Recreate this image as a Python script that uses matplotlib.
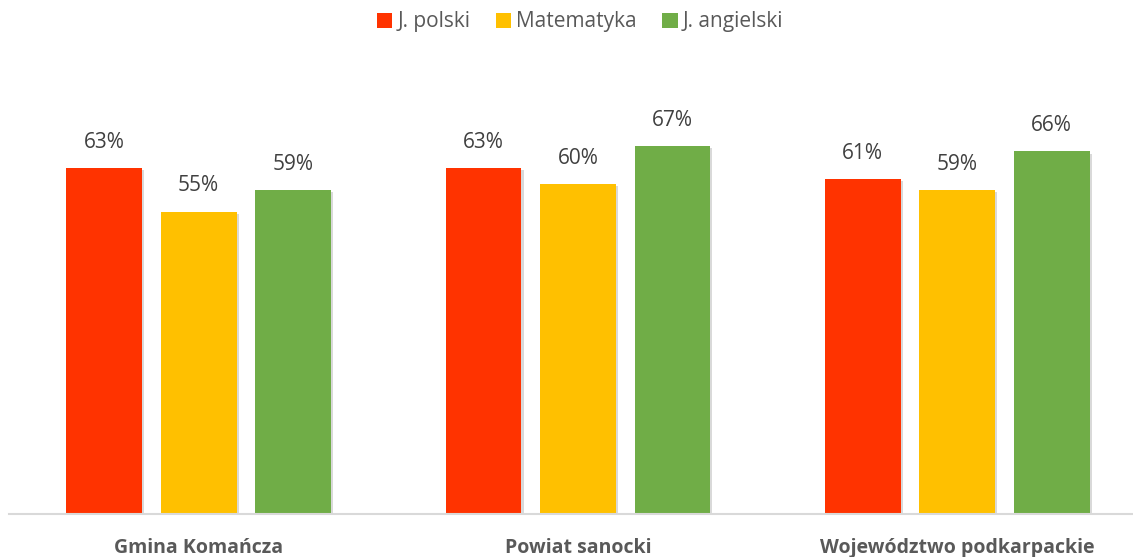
import numpy as np
import matplotlib.pyplot as plt
import matplotlib.patheffects as pe
from matplotlib.patches import Patch

plt.rcParams['font.family'] = ['Open Sans', 'DejaVu Sans']

kategorie = ['Gmina Komańcza', 'Powiat sanocki', 'Województwo podkarpackie']
przedmioty = ['J. polski', 'Matematyka', 'J. angielski']
wyniki = {
    'J. polski': [0.63, 0.63, 0.61],
    'Matematyka': [0.55, 0.60, 0.59],
    'J. angielski': [0.59, 0.67, 0.66],
}
kolory = ['#FF3300', '#FFC000', '#70AD47']

W, H = 1133, 557
fig = plt.figure(figsize=(W / 100, H / 100), dpi=100)
ax = fig.add_axes([9 / W, 43 / H, (1133 - 9) / W, 412 / H])

x = np.arange(len(kategorie))
slot = 0.249
szer = 0.2
cien = [pe.SimplePatchShadow(offset=(1.5, -1.5), shadow_rgbFace='#000000', alpha=0.15), pe.Normal()]

for i, (p, kol) in enumerate(zip(przedmioty, kolory)):
    pos = x + (i - 1) * slot
    bary = ax.bar(pos, wyniki[p], width=szer, color=kol, zorder=3)
    for b in bary:
        b.set_path_effects(cien)
    for xp, v in zip(pos, wyniki[p]):
        ax.text(xp, v + 0.028, f'{v * 100:.0f}%', ha='center', va='bottom',
                fontsize=15, color='#404040')

ax.set_xlim(-0.5, 2.5 - 14 / 379.5)
ax.set_ylim(0, 0.75)
ax.set_yticks([])
ax.set_xticks(x)
ax.set_xticklabels(kategorie, fontsize=14, fontweight='bold', color='#595959')
ax.tick_params(axis='x', length=0, pad=17)
for s in ['top', 'right', 'left']:
    ax.spines[s].set_visible(False)
ax.spines['bottom'].set_color('#D9D9D9')
ax.spines['bottom'].set_linewidth(1.5)
ax.spines['bottom'].set_zorder(4)

uchwyty = [Patch(facecolor=k, edgecolor='none') for k in kolory]
fig.legend(uchwyty, przedmioty, loc='center', bbox_to_anchor=(580 / W, 1 - 22 / H),
           ncol=3, frameon=False, fontsize=15, handlelength=0.75, handleheight=0.75,
           handletextpad=0.25, columnspacing=1.2, labelcolor='#595959')

fig.savefig('out.png', dpi=100)
